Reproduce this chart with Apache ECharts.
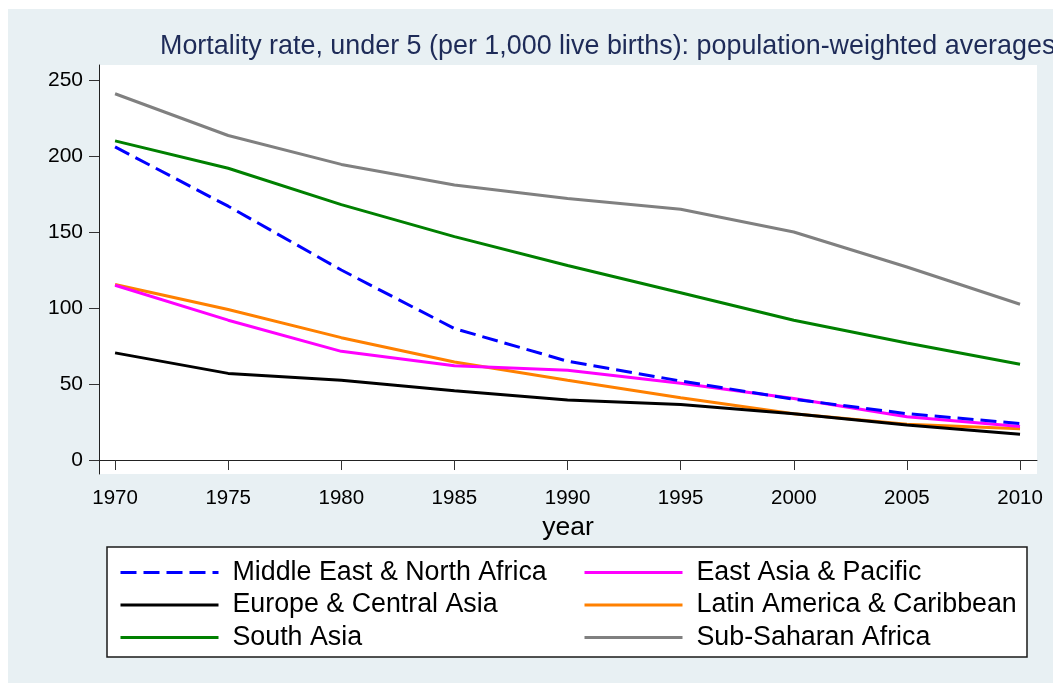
<!DOCTYPE html>
<html>
<head>
<meta charset="utf-8">
<script src="https://cdn.jsdelivr.net/npm/echarts@6/dist/echarts.min.js"></script>
<style>
  html, body { margin: 0; padding: 0; background: #ffffff; }
  #chart { width: 1053px; height: 683px; }
</style>
</head>
<body>
<div id="chart"></div>
<script>
// Under-5 mortality (per 1,000 live births), population-weighted regional averages
const years = [1970, 1975, 1980, 1985, 1990, 1995, 2000, 2005, 2010];
const yTicks = [0, 50, 100, 150, 200, 250];

const menaValues = [206, 167, 125, 86.5, 65, 52, 40, 30.5, 24];
const eapValues  = [115, 92, 71.5, 62, 59, 50.5, 40.5, 28.5, 22];
const ecaValues  = [70.5, 57, 52.5, 45.5, 39.5, 36.5, 30.5, 23, 17];
const lacValues  = [115.5, 99, 80.5, 64.5, 52.5, 41, 30.5, 23.5, 20.5];
const saValues   = [210, 192, 168, 147, 128, 110, 92, 77, 63];
const ssaValues  = [241, 213.5, 194.5, 181, 172, 165, 150, 127, 102.5];

const seriesNames = [
  'Middle East & North Africa',
  'East Asia & Pacific',
  'Europe & Central Asia',
  'Latin America & Caribbean',
  'South Asia',
  'Sub-Saharan Africa'
];
const seriesValues = [menaValues, eapValues, ecaValues, lacValues, saValues, ssaValues];
const seriesColors = ['#0000ff', '#ff00ff', '#000000', '#ff8000', '#008000', '#808080'];
const seriesDash = ['dashed', 'solid', 'solid', 'solid', 'solid', 'solid'];

const font = '"Liberation Sans", Arial, Helvetica, sans-serif';

const chart = echarts.init(document.getElementById('chart'), null, { renderer: 'canvas' });

const series = seriesNames.map((name, i) => ({
  name: name,
  type: 'line',
  data: years.map((yr, j) => [yr, seriesValues[i][j]]),
  symbol: 'none',
  z: 10 - i,
  lineStyle: {
    color: seriesColors[i],
    width: 3,
    type: seriesDash[i] === 'dashed' ? [16, 7] : 'solid'
  },
  itemStyle: { color: seriesColors[i] }
}));

const legendText = {
  fontFamily: font,
  fontSize: 26.8,
  color: '#000',
  lineHeight: 26,
  padding: [0, 0, 0, 9]
};

// legend entries show only the line stroke, no point marker
const legendCommon = {
  orient: 'vertical',
  top: 559,
  padding: 0,
  itemWidth: 98, itemHeight: 14, itemGap: 5.5,
  textStyle: legendText,
  itemStyle: { opacity: 0 },
  lineStyle: { width: 3 },
  selectedMode: false
};

chart.setOption({
  backgroundColor: '#ffffff',
  animation: false,
  graphic: [
    {
      type: 'rect', z: -10, silent: true,
      shape: { x: 8, y: 9, width: 1045, height: 674 },
      style: { fill: '#e8f0f3' }
    },
    {
      type: 'rect', z: 0, silent: true,
      shape: { x: 107, y: 547, width: 920, height: 110 },
      style: { fill: '#ffffff', stroke: '#1a1a1a', lineWidth: 1.5 }
    },
    {
      type: 'text', z: 5, silent: true,
      x: 160, y: 47,
      style: {
        text: 'Mortality rate, under 5 (per 1,000 live births): population-weighted averages',
        fontFamily: font, fontSize: 26.9, fill: '#1e2b58',
        verticalAlign: 'middle', align: 'left'
      }
    }
  ],
  grid: {
    left: 99, top: 65, width: 938, height: 409,
    show: true, backgroundColor: '#ffffff', borderWidth: 0,
    containLabel: false
  },
  xAxis: {
    type: 'value',
    min: 1969.29, max: 2010.75,
    name: 'year',
    nameLocation: 'middle',
    nameGap: 32,
    nameTextStyle: { fontFamily: font, fontSize: 26.5, color: '#000' },
    splitLine: { show: false },
    axisLine: { show: true, lineStyle: { color: '#222', width: 1 } },
    axisTick: { show: true, length: 10, customValues: years, lineStyle: { color: '#333', width: 1 } },
    axisLabel: {
      customValues: years, fontFamily: font, fontSize: 20.5, color: '#000', margin: 14,
      formatter: (v) => String(v)
    }
  },
  yAxis: {
    type: 'value',
    min: -9.2, max: 259.9,
    splitLine: { show: false },
    axisLine: { show: true, lineStyle: { color: '#222', width: 1 } },
    axisTick: { show: true, length: 10, customValues: yTicks, lineStyle: { color: '#333', width: 1 } },
    axisLabel: { customValues: yTicks, fontFamily: font, fontSize: 21, color: '#000', margin: 16 }
  },
  legend: [
    Object.assign({}, legendCommon, {
      data: [seriesNames[0], seriesNames[2], seriesNames[4]],
      left: 119
    }),
    Object.assign({}, legendCommon, {
      data: [seriesNames[1], seriesNames[3], seriesNames[5]],
      left: 583
    })
  ],
  series: series
});
</script>
</body>
</html>
